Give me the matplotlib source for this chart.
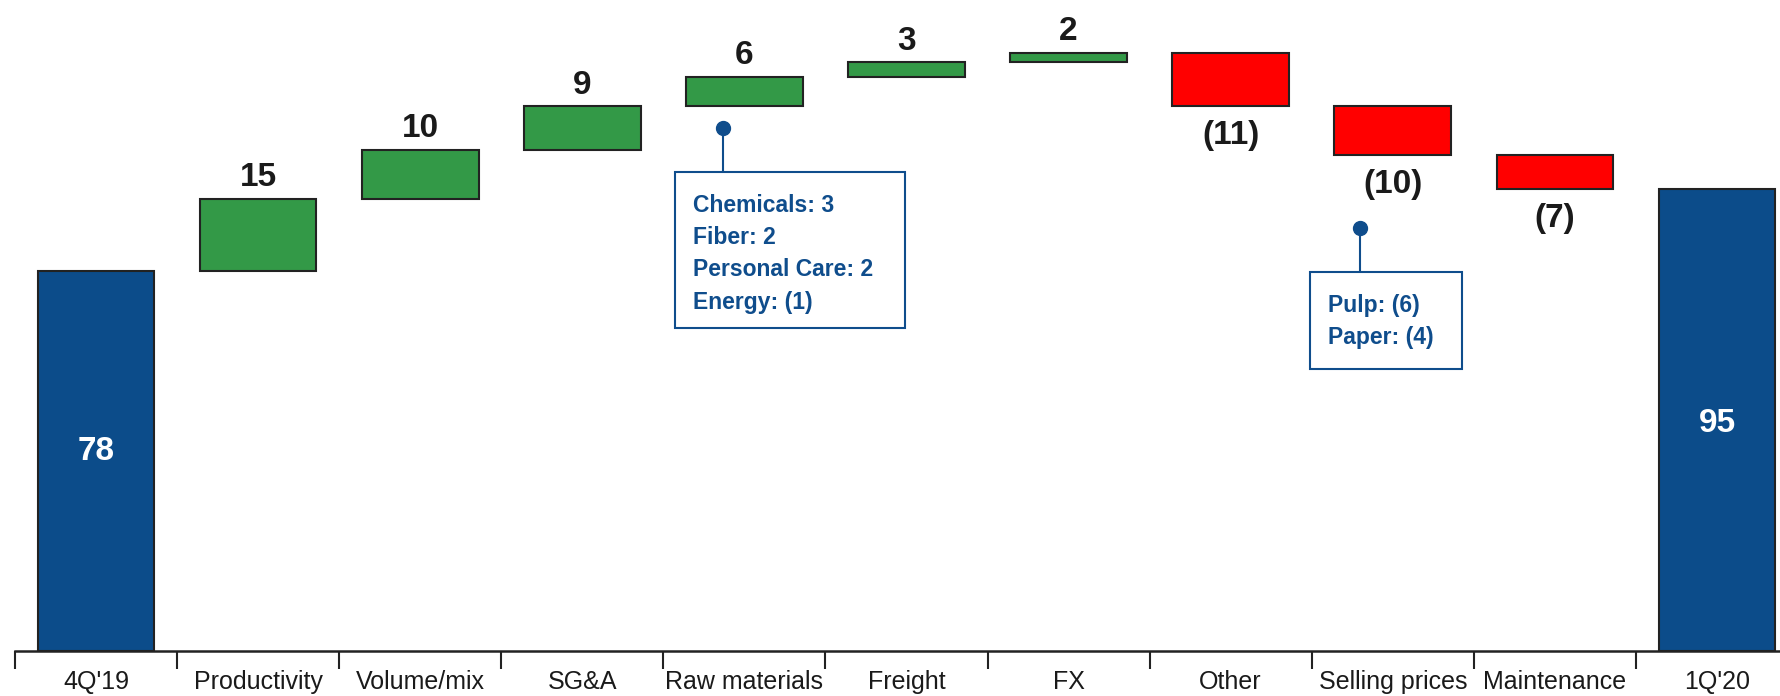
import matplotlib
matplotlib.use("Agg")
import matplotlib.pyplot as plt
from matplotlib import font_manager
import numpy as np

categories = ["4Q'19", "Productivity", "Volume/mix", "SG&A", "Raw materials",
              "Freight", "FX", "Other", "Selling prices", "Maintenance", "1Q'20"]
start_value = 78
changes = [15, 10, 9, 6, 3, 2, -11, -10, -7]
end_value = 95
change_labels = ["15", "10", "9", "6", "3", "2", "(11)", "(10)", "(7)"]
raw_materials_detail = ["Chemicals: 3", "Fiber: 2", "Personal Care: 2", "Energy: (1)"]
selling_prices_detail = ["Pulp: (6)", "Paper: (4)"]

names = {f.name for f in font_manager.fontManager.ttflist}
fam = "Liberation Sans Narrow" if "Liberation Sans Narrow" in names else "Liberation Sans"
plt.rcParams['font.family'] = [fam, 'DejaVu Sans']

BLUE = "#0c4c8a"
GREEN = "#339947"
RED = "#ff0000"
EDGE = "#222222"
TXT = "#1a1a1a"

fig = plt.figure(figsize=(17.81, 6.96), dpi=100)
ax = fig.add_axes([15/1781, 45/696, 1783/1781, 651/696])
ax.set_xlim(-0.5, 10.5)
ax.set_ylim(0, 133.8)

w = 0.72
# start / end bars
ax.bar(0, start_value, width=w, color=BLUE, edgecolor=EDGE, linewidth=1.5, zorder=2)
ax.bar(10, end_value, width=w, color=BLUE, edgecolor=EDGE, linewidth=1.5, zorder=2)
ax.text(0, start_value / 2 + 2.0, str(start_value), ha='center', va='center',
        color='white', fontsize=24, fontweight='bold')
ax.text(10, end_value / 2 - 0.8, str(end_value), ha='center', va='center',
        color='white', fontsize=24, fontweight='bold')

cum = start_value
for i, (c, lab) in enumerate(zip(changes, change_labels), start=1):
    bottom = cum if c > 0 else cum + c
    ax.bar(i, abs(c), bottom=bottom, width=w, color=GREEN if c > 0 else RED,
           edgecolor=EDGE, linewidth=1.5, zorder=2)
    if c > 0:
        ax.annotate(lab, (i, cum + c), xytext=(0, 4), textcoords='offset points',
                    ha='center', va='bottom', fontsize=24, fontweight='bold', color=TXT)
    else:
        ax.annotate(lab, (i, cum + c), xytext=(0, -10), textcoords='offset points',
                    ha='center', va='top', fontsize=24, fontweight='bold', color=TXT)
    cum += c

# axes styling
for s in ['top', 'right', 'left']:
    ax.spines[s].set_visible(False)
ax.spines['bottom'].set_linewidth(1.8)
ax.spines['bottom'].set_color('#222222')
ax.set_yticks([])
ax.set_xticks(range(len(categories)))
ax.set_xticklabels(categories, fontsize=18, color=TXT)
ax.tick_params(axis='x', which='major', length=0, pad=14)
ax.set_xticks(np.arange(-0.5, 11, 1.0), minor=True)
ax.tick_params(axis='x', which='minor', length=13, width=1.5, color='#222222')

# callouts
ANN = "#0f4d8c"
def callout(dot, box, lines):
    x0, y0, x1, y1 = box
    ax.plot([dot[0], dot[0]], [dot[1], y1], color=ANN, lw=1.5, zorder=3)
    ax.plot(dot[0], dot[1], 'o', color=ANN, markersize=10, zorder=4)
    ax.add_patch(plt.Rectangle((x0, y0), x1 - x0, y1 - y0, facecolor='white',
                               edgecolor=ANN, lw=1.5, zorder=3))
    ax.text(x0 + 0.11, y1 - 4.4, "\n".join(lines), ha='left', va='top',
            fontsize=16.5, fontweight='bold', color=ANN, linespacing=1.52, zorder=5)

callout((3.87, 107.5), (3.57, 66.4, 4.99, 98.4), raw_materials_detail)
callout((7.80, 86.9), (7.49, 57.9, 8.43, 77.8), selling_prices_detail)

fig.savefig("out.png", dpi=100)
